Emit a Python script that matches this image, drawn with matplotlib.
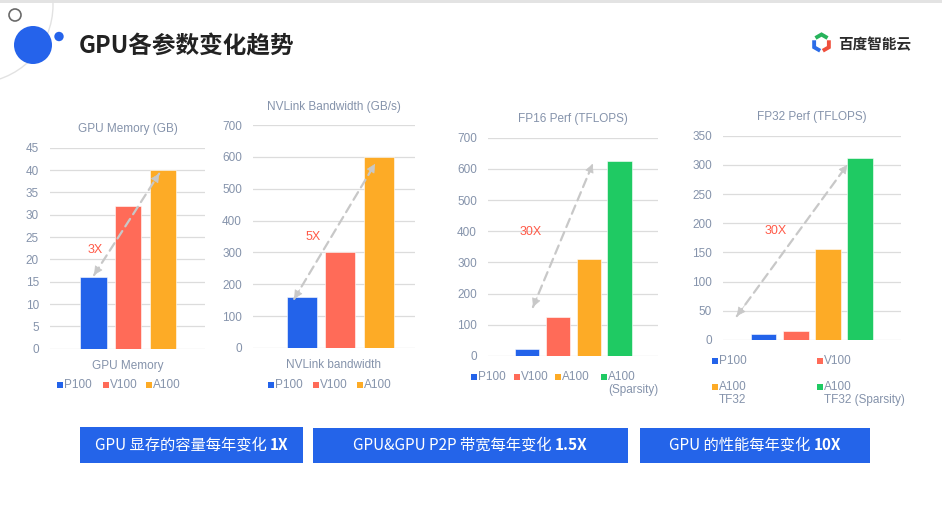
import numpy as np
import matplotlib.pyplot as plt
from matplotlib.patches import Rectangle, Circle

plt.rcParams['font.family'] = ['Liberation Sans', 'Noto Sans CJK SC', 'DejaVu Sans']

W, H = 942, 532

# data
mem_labels = ['P100', 'V100', 'A100']
mem_values = [16, 32, 40]
nvl_labels = ['P100', 'V100', 'A100']
nvl_values = [160, 300, 600]
fp16_labels = ['P100', 'V100', 'A100', 'A100\n(Sparsity)']
fp16_values = [21.2, 125, 312, 624]
fp32_labels = ['P100', 'V100', 'A100\nTF32', 'A100\nTF32 (Sparsity)']
fp32_values = [10.6, 15.7, 156, 312]

bar_colors = ['#2363ea', '#ff6b58', '#fdab26', '#1fca63']
tick_color = '#8593ab'
grid_color = '#dcdcdc'
arrow_color = '#c8c8c8'
red_text = '#ff5a48'
box_color = '#2464e9'

box_texts = [('GPU 显存的容量每年变化 ', '1X'),
             ('GPU&GPU P2P 带宽每年变化 ', '1.5X'),
             ('GPU 的性能每年变化 ', '10X')]

fig = plt.figure(figsize=(W / 100, H / 100), dpi=100)

# background layer in pixel coordinates
bg = fig.add_axes([0, 0, 1, 1])
bg.set_xlim(0, W)
bg.set_ylim(H, 0)
bg.axis('off')

bg.add_patch(Rectangle((0, 0), W, 3, color='#e3e3e3', lw=0))
bg.add_patch(Circle((-25, 5), 78, fill=False, ec='#e2e2e2', lw=1))
bg.add_patch(Circle((15, 15), 6, fill=False, ec='#6a6a6a', lw=1.2))
bg.add_patch(Circle((33, 45), 19, color='#2563eb', lw=0))
bg.add_patch(Circle((59, 36.5), 4.7, color='#2563eb', lw=0))
bg.text(79, 46, 'GPU各参数变化趋势', fontsize=17, fontweight='bold', color='#222222',
        va='center', ha='left', family=['Noto Sans CJK SC'])

# logo: hexagon in three colour pieces with small gaps
cx, cy, r = 821.5, 43, 8.5
def hex_pt(a):
    a = np.deg2rad(a)
    return np.array([cx + r * np.cos(a), cy - r * np.sin(a)])
for (a0, a1, a2), col in [((150, 90, 30), '#27b35b'), ((150, 210, 270), '#2c6de8'),
                          ((270, 330, 30), '#ef4f3c')]:
    v0, v1, v2 = hex_pt(a0), hex_pt(a1), hex_pt(a2)
    p0 = v0 + (v1 - v0) * 0.18
    p2 = v2 + (v1 - v2) * 0.18
    pts = np.array([p0, v1, p2])
    bg.plot(pts[:, 0], pts[:, 1], color=col, lw=2.8, solid_capstyle='butt',
            solid_joinstyle='miter')
bg.text(838, 44, '百度智能云', fontsize=10.5, fontweight='bold', color='#2b2b2b',
        va='center', ha='left', family=['Noto Sans CJK SC'])


def px_axes(l, t, r, b):
    return fig.add_axes([l / W, 1 - b / H, (r - l) / W, (b - t) / H])


panels = [
    dict(box=(50, 147.7, 205, 348.7), vals=mem_values, labels=mem_labels,
         xlim=(-1.23, 3.2), ylim=45, step=5, title='GPU Memory (GB)', xlabel='GPU Memory',
         width=0.77, arrow=((0.03, 16.5), (1.89, 39.2)), tag=('3X', (0.06, 22.1))),
    dict(box=(253, 125, 415, 348), vals=nvl_values, labels=nvl_labels,
         xlim=(-1.27, 2.94), ylim=700, step=100, title='NVLink Bandwidth (GB/s)',
         xlabel='NVLink bandwidth',
         width=0.78, arrow=((-0.2, 154), (1.9, 578)), tag=('5X', (0.28, 348))),
    dict(box=(488, 137.7, 658, 356), vals=fp16_values, labels=fp16_labels,
         xlim=(-1.27, 4.25), ylim=700, step=100, title='FP16 Perf (TFLOPS)', xlabel=None,
         width=0.78, arrow=((0.19, 157), (2.13, 616)), tag=('30X', (0.1, 398))),
    dict(box=(723, 135.7, 901, 340), vals=fp32_values, labels=fp32_labels,
         xlim=(-1.26, 4.27), ylim=350, step=50, title='FP32 Perf (TFLOPS)', xlabel=None,
         width=0.8, arrow=((-0.83, 41), (2.6, 300)), tag=('30X', (0.39, 187))),
]

for p in panels:
    ax = px_axes(*p['box'])
    n = len(p['vals'])
    x = np.arange(n)
    ax.bar(x, p['vals'], width=p['width'], color=bar_colors[:n], edgecolor='white',
           linewidth=0.4, zorder=3)
    ax.set_xlim(*p['xlim'])
    ax.set_ylim(0, p['ylim'])
    ax.set_yticks(np.arange(0, p['ylim'] + 1, p['step']))
    ax.set_xticks([])
    ax.grid(axis='y', color=grid_color, lw=0.9, zorder=0)
    for s in ax.spines.values():
        s.set_visible(False)
    ax.tick_params(axis='y', length=0, pad=8, labelsize=8.5, labelcolor=tick_color)
    ax.set_title(p['title'], fontsize=8.5, color=tick_color, pad=11)
    if p['xlabel']:
        ax.set_xlabel(p['xlabel'], fontsize=8.5, color=tick_color, labelpad=8)
    (x0, y0), (x1, y1) = p['arrow']
    ax.annotate('', xy=(x1, y1), xytext=(x0, y0),
                arrowprops=dict(arrowstyle='-', color=arrow_color, lw=1.6,
                                linestyle=(0, (4, 2.5)), shrinkA=0, shrinkB=0), zorder=5)
    for (ex, ey), (sx, sy) in [((x1, y1), (x0, y0)), ((x0, y0), (x1, y1))]:
        fx = ex - (ex - sx) * 0.07
        fy = ey - (ey - sy) * 0.07
        ax.annotate('', xy=(ex, ey), xytext=(fx, fy),
                    arrowprops=dict(arrowstyle='-|>,head_length=0.55,head_width=0.28',
                                    color=arrow_color, lw=0.5, shrinkA=0, shrinkB=0), zorder=5)
    tg, (tx, ty) = p['tag']
    ax.text(tx, ty, tg, fontsize=9, color=red_text, ha='center', va='center', zorder=6)

# legends (pixel positions of the markers)
legend_spots = [
    (mem_labels, [(57, 385), (103, 385), (146, 385)]),
    (nvl_labels, [(268, 385), (313, 385), (357, 385)]),
    (fp16_labels, [(471, 377), (514, 377), (555, 377), (601, 377)]),
    (fp32_labels, [(712, 361), (817, 361), (712, 387), (817, 387)]),
]
for labels, spots in legend_spots:
    for i, (lab, (lx, ly)) in enumerate(zip(labels, spots)):
        bg.add_patch(Rectangle((lx, ly - 2.8), 5.6, 5.6, color=bar_colors[i], lw=0))
        bg.text(lx + 7, ly - 6.5, lab, fontsize=8.5, color=tick_color, ha='left', va='top',
                linespacing=1.15)

# bottom boxes
boxes = [(80, 427, 303, 463), (313, 428, 628, 463), (640, 428, 870, 463)]
pairs = []
for (l, t, r, b), (normal, bold) in zip(boxes, box_texts):
    bg.add_patch(Rectangle((l, t), r - l, b - t, color=box_color, lw=0))
    ym = (t + b) / 2
    t1 = bg.text(0, ym, normal, fontsize=11, color='white', ha='left', va='center',
                 family=['Noto Sans CJK SC'])
    t2 = bg.text(0, ym, bold, fontsize=11, color='white', ha='left', va='center',
                 fontweight='bold', family=['Noto Sans CJK SC'])
    pairs.append(((l + r) / 2, t1, t2))

fig.canvas.draw()
rend = fig.canvas.get_renderer()
for xm, t1, t2 in pairs:
    w1 = t1.get_window_extent(rend).width
    w2 = t2.get_window_extent(rend).width
    start = xm - (w1 + w2) / 2
    t1.set_x(start)
    t2.set_x(start + w1)

fig.savefig('out.png', dpi=100, facecolor='white')
